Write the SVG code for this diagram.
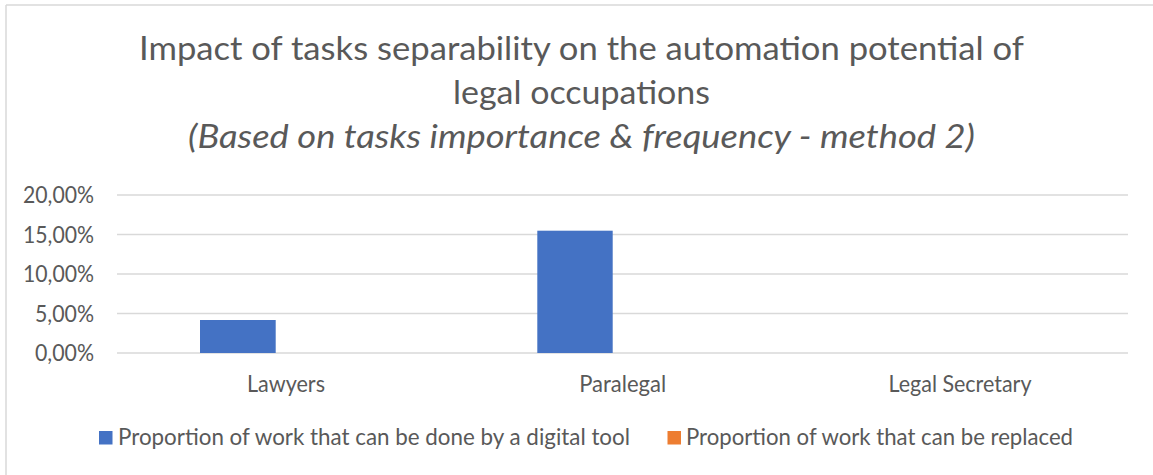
<svg xmlns="http://www.w3.org/2000/svg" width="1153" height="475" viewBox="0 0 1153 475">
<style>
.t{font-family:Lato,"Liberation Sans",sans-serif;fill:#595959}
.title{font-size:33px}
.ax{font-size:23px}
.grid{stroke:#d9d9d9;stroke-width:1.3;fill:none}
.border{stroke:#d9d9d9;stroke-width:1.5;fill:none}
.s1{fill:#4472c4}
.s2{fill:#ed7d31}
</style>
<rect x="0" y="0" width="1153" height="475" fill="#ffffff"/>
<g id="border">
<line class="border" x1="6" y1="5" x2="1153" y2="5"/>
<line class="border" x1="6" y1="5" x2="6" y2="475"/>
</g>
<g id="title" class="t title" text-anchor="middle">
<text x="581.5" y="60" textLength="885" lengthAdjust="spacingAndGlyphs">Impact of tasks separability on the automation potential of</text>
<text x="581.5" y="104" textLength="257" lengthAdjust="spacingAndGlyphs">legal occupations</text>
<text x="581.5" y="148" font-style="italic" textLength="787" lengthAdjust="spacingAndGlyphs">(Based on tasks importance &amp; frequency - method 2)</text>
</g>
<g id="gridlines">
<line class="grid" x1="117" y1="195" x2="1128" y2="195"/>
<line class="grid" x1="117" y1="234.5" x2="1128" y2="234.5"/>
<line class="grid" x1="117" y1="274" x2="1128" y2="274"/>
<line class="grid" x1="117" y1="313.5" x2="1128" y2="313.5"/>
<line class="grid" x1="117" y1="353" x2="1128" y2="353"/>
</g>
<g id="y-axis" class="t ax" text-anchor="end">
<text x="94" y="203" textLength="71" lengthAdjust="spacingAndGlyphs">20,00%</text>
<text x="94" y="242.5" textLength="71" lengthAdjust="spacingAndGlyphs">15,00%</text>
<text x="94" y="282" textLength="71" lengthAdjust="spacingAndGlyphs">10,00%</text>
<text x="94" y="321.5" textLength="59" lengthAdjust="spacingAndGlyphs">5,00%</text>
<text x="94" y="361" textLength="59" lengthAdjust="spacingAndGlyphs">0,00%</text>
</g>
<g id="bars">
<rect id="bar-lawyers" class="s1" x="200" y="320" width="75.7" height="33"/>
<rect id="bar-paralegal" class="s1" x="537.3" y="230.7" width="75.4" height="122.3"/>
</g>
<g id="x-axis" class="t ax" text-anchor="middle">
<text x="286" y="392" textLength="78" lengthAdjust="spacingAndGlyphs">Lawyers</text>
<text x="622.7" y="392" textLength="87" lengthAdjust="spacingAndGlyphs">Paralegal</text>
<text x="960" y="392" textLength="143" lengthAdjust="spacingAndGlyphs">Legal Secretary</text>
</g>
<g id="legend" class="t ax">
<rect class="s1" x="99" y="431" width="13.5" height="13.5"/>
<text x="118" y="445" textLength="512" lengthAdjust="spacingAndGlyphs">Proportion of work that can be done by a digital tool</text>
<rect class="s2" x="667.5" y="431" width="13.5" height="13.5"/>
<text x="686" y="445" textLength="387" lengthAdjust="spacingAndGlyphs">Proportion of work that can be replaced</text>
</g>
</svg>
